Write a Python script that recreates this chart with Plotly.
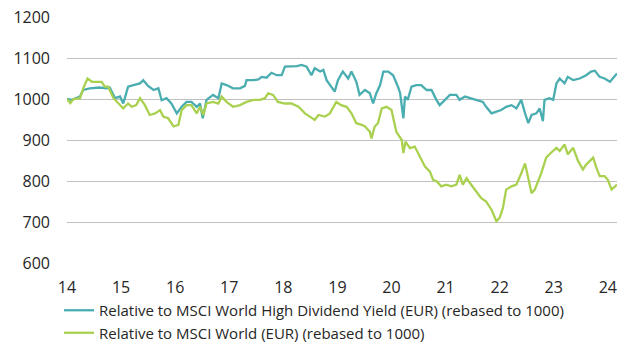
import plotly.graph_objects as go

# Relative performance vs MSCI World High Dividend Yield (EUR), rebased to 1000
hdy_year = [14.00, 14.09, 14.24, 14.30, 14.42, 14.60, 14.73, 14.79, 14.89, 14.98, 15.04,
            15.13, 15.23, 15.35, 15.41, 15.50, 15.60, 15.69, 15.75, 15.84, 15.93, 16.03,
            16.12, 16.21, 16.30, 16.40, 16.46, 16.51, 16.58, 16.70, 16.80, 16.86, 16.95,
            17.07, 17.20, 17.29, 17.32, 17.45, 17.54, 17.60, 17.69, 17.78, 17.88, 17.97,
            18.03, 18.12, 18.25, 18.34, 18.43, 18.52, 18.58, 18.68, 18.74, 18.80, 18.89,
            18.95, 19.01, 19.10, 19.20, 19.26, 19.35, 19.41, 19.51, 19.60, 19.66, 19.72,
            19.79, 19.85, 19.94, 20.03, 20.12, 20.16, 20.22, 20.25, 20.30, 20.37, 20.46,
            20.55, 20.65, 20.74, 20.83, 20.89, 20.99, 21.08, 21.20, 21.26, 21.36, 21.45,
            21.57, 21.69, 21.75, 21.85, 21.94, 22.03, 22.12, 22.22, 22.31, 22.40, 22.47,
            22.53, 22.59, 22.68, 22.74, 22.80, 22.83, 22.92, 22.99, 23.05, 23.11, 23.20,
            23.26, 23.36, 23.48, 23.60, 23.69, 23.76, 23.85, 23.94, 24.04, 24.17]
hdy_value = [1000, 998, 1006, 1022, 1026, 1028, 1026, 1028, 1002, 1006, 989,
             1030, 1034, 1038, 1046, 1032, 1022, 1026, 997, 1002, 989, 965,
             981, 993, 993, 981, 989, 953, 998, 1010, 1002, 1038, 1034,
             1026, 1026, 1032, 1046, 1046, 1048, 1054, 1052, 1064, 1058, 1058,
             1079, 1079, 1080, 1083, 1079, 1058, 1075, 1067, 1071, 1046, 1030,
             1018, 1046, 1067, 1050, 1067, 1042, 1010, 1022, 1014, 989, 1014,
             1034, 1067, 1067, 1058, 1030, 1014, 953, 1006, 998, 1030, 1034,
             1034, 1022, 1022, 998, 985, 998, 1010, 1010, 998, 1006, 1002,
             998, 993, 981, 965, 969, 973, 981, 985, 977, 998, 965,
             941, 961, 965, 977, 946, 998, 1002, 998, 1038, 1050, 1038,
             1054, 1046, 1050, 1058, 1067, 1069, 1054, 1050, 1042, 1062]

# Relative performance vs MSCI World (EUR), rebased to 1000
msci_year = [14.00, 14.06, 14.12, 14.24, 14.30, 14.38, 14.46, 14.55, 14.64, 14.70, 14.76,
             14.86, 14.95, 15.04, 15.13, 15.20, 15.28, 15.35, 15.44, 15.53, 15.63, 15.72,
             15.78, 15.87, 15.97, 16.06, 16.12, 16.21, 16.30, 16.40, 16.46, 16.52, 16.58,
             16.70, 16.80, 16.86, 16.95, 17.07, 17.20, 17.32, 17.45, 17.57, 17.66, 17.72,
             17.81, 17.90, 18.03, 18.15, 18.28, 18.40, 18.49, 18.58, 18.65, 18.77, 18.86,
             18.98, 19.07, 19.17, 19.26, 19.35, 19.45, 19.51, 19.60, 19.63, 19.69, 19.75,
             19.82, 19.91, 20.00, 20.09, 20.19, 20.22, 20.26, 20.34, 20.43, 20.52, 20.62,
             20.71, 20.77, 20.84, 20.92, 21.01, 21.11, 21.20, 21.26, 21.32, 21.39, 21.45,
             21.57, 21.66, 21.75, 21.85, 21.94, 22.00, 22.06, 22.12, 22.22, 22.31, 22.40,
             22.47, 22.59, 22.65, 22.77, 22.86, 22.95, 23.05, 23.11, 23.20, 23.26, 23.36,
             23.45, 23.54, 23.60, 23.67, 23.73, 23.79, 23.85, 23.94, 24.00, 24.07, 24.17]
msci_value = [1000, 990, 1000, 1002, 1026, 1050, 1042, 1042, 1042, 1030, 1030,
              1002, 989, 977, 989, 981, 985, 1002, 985, 961, 965, 973,
              957, 953, 933, 937, 973, 985, 985, 965, 981, 961, 989,
              993, 989, 1006, 993, 981, 985, 993, 998, 998, 1002, 1014,
              1010, 993, 989, 989, 981, 965, 957, 949, 961, 957, 965,
              993, 985, 981, 965, 941, 937, 933, 920, 904, 933, 941,
              977, 981, 973, 920, 900, 868, 896, 880, 884, 860, 835,
              823, 803, 799, 787, 791, 787, 791, 815, 791, 807, 795,
              775, 758, 750, 730, 702, 710, 734, 779, 787, 791, 819,
              843, 770, 779, 819, 857, 869, 881, 873, 889, 865, 881,
              849, 828, 840, 849, 857, 832, 812, 812, 803, 779, 791]

series_names = ["Relative to MSCI World High Dividend Yield (EUR) (rebased to 1000)",
                "Relative to MSCI World (EUR) (rebased to 1000)"]
y_ticks = [600, 700, 800, 900, 1000, 1100, 1200]
x_ticks = [14, 15, 16, 17, 18, 19, 20, 21, 22, 23, 24]

TEAL = "#4aadb0"
LIME = "#a9d14f"
FONT = "Open Sans"

fig = go.Figure()
fig.add_trace(go.Scatter(x=hdy_year, y=hdy_value, mode="lines", name=series_names[0],
                         line=dict(color=TEAL, width=2.3)))
fig.add_trace(go.Scatter(x=msci_year, y=msci_value, mode="lines", name=series_names[1],
                         line=dict(color=LIME, width=2.3)))

fig.update_layout(
    width=629, height=347,
    margin=dict(l=67, r=12, t=17, b=84, autoexpand=False),
    paper_bgcolor="white", plot_bgcolor="white",
    font=dict(family=FONT, size=16, color="#262626"),
    showlegend=True,
    legend=dict(orientation="v", x=59 / 629, xref="container", xanchor="left",
                y=1 - 294 / 347, yref="container", yanchor="top",
                font=dict(family=FONT, size=15, color="#262626"),
                bgcolor="rgba(0,0,0,0)", tracegroupgap=0, itemwidth=30),
    xaxis=dict(range=[14, 24.17], tickvals=x_ticks, ticktext=[str(v) for v in x_ticks],
               showgrid=False, zeroline=False, showline=False, ticks="",
               ticklabelstandoff=13, fixedrange=True),
    yaxis=dict(range=[600, 1200], tickvals=y_ticks, showgrid=True, gridcolor="#c0c0c0",
               gridwidth=1.3, zeroline=False, showline=False, ticks="",
               ticklabelstandoff=16, fixedrange=True),
)

fig.write_html("out.html")
